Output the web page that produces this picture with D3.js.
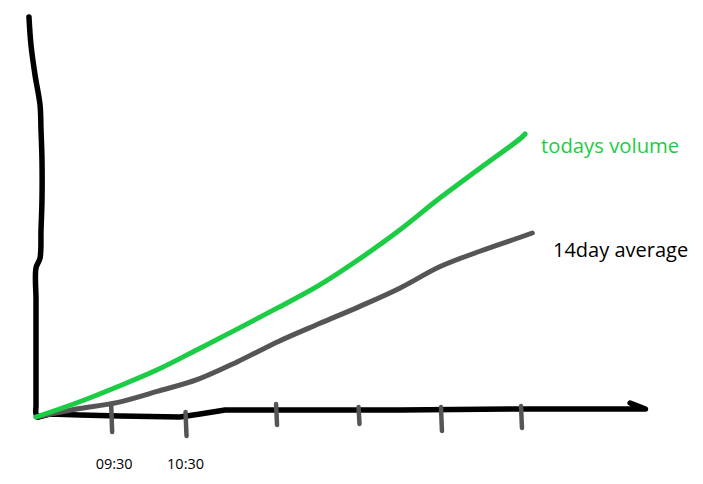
<!DOCTYPE html>
<html><head><meta charset="utf-8">
<script src="https://cdn.jsdelivr.net/npm/d3@7/dist/d3.min.js"></script>
<style>html,body{margin:0;padding:0;background:#fff;}svg{display:block;}</style>
</head><body>
<script>
// Hours since 08:30
const hours = [0, 0.5, 1, 1.5, 2, 2.5, 3, 3.5, 4, 4.5, 5, 5.5, 6];
const todaysVolume = [0, 3.5, 7.5, 11.8, 16.9, 22.1, 27.4, 32.9, 39.5, 46.75, 54.8, 62.3, 69.75];
const todaysEnd = [6.05, 70.75];
const avgVolume = [0, 2, 3.6, 6.4, 9.4, 13.9, 18.9, 23.3, 27.6, 32.2, 37.6, 41.5, 45];
const avgEnd = [6.14, 46];
const tickHours = [0.93, 1.85, 2.97, 3.99, 5.01, 6.0];
const tickLabels = ["09:30", "10:30", "", "", "", ""];
const seriesNames = ["todays volume", "14day average"];
// hand-drawn axis strokes in data units [hour, volume]
const yAxisStroke = [[-0.087,100],[-0.062,93],[-0.012,85.5],[0.05,78],[0.062,71.75],[0.074,64.25],[0.074,54.25],[0.062,46.75],[0.05,39.75],[0,37.25],[0,29.25],[0,16.75],[0,3],[0,0.75],[0.025,0]];
const xAxisStroke = [[0.025,0],[0.173,0.75],[0.545,0.5],[1.04,0.25],[1.78,0],[2.03,0.75],[2.34,1.75],[3.27,1.75],[4.5,1.75],[5.99,2],[6.98,2],[7.54,2],[7.35,3.5]];
const tickTops = [3, 1.25, 3.25, 2.5, 2.5, 2.75];
const tickBottoms = [-3.75, -4.75, -2, -1.75, -3.5, -2.75];

const W = 703, H = 484;
const x = d3.scaleLinear().domain([0, 6]).range([36, 521]);
const y = d3.scaleLinear().domain([0, 100]).range([417, 17]);

const svg = d3.select("body").append("svg").attr("width", W).attr("height", H);

const line = d3.line().x(d => x(d[0])).y(d => y(d[1])).curve(d3.curveCatmullRom);
const lineLin = d3.line().x(d => x(d[0])).y(d => y(d[1]));
const font = "'Segoe UI', 'Open Sans', 'Noto Sans', sans-serif";

// axes
svg.append("path").attr("d", line(yAxisStroke)).attr("fill","none").attr("stroke","#000").attr("stroke-width",5.5).attr("stroke-linecap","round").attr("stroke-linejoin","round");
svg.append("path").attr("d", lineLin(xAxisStroke)).attr("fill","none").attr("stroke","#000").attr("stroke-width",5.5).attr("stroke-linecap","round").attr("stroke-linejoin","round");

// ticks
svg.selectAll("path.tick").data(tickHours).enter().append("path").attr("class","tick")
  .attr("d", (h,i) => lineLin([[h, tickTops[i]], [h + 0.012, tickBottoms[i]]]))
  .attr("fill","none").attr("stroke","#555").attr("stroke-width",4.5).attr("stroke-linecap","round");

svg.selectAll("text.tl").data(tickLabels).enter().append("text").attr("class","tl")
  .attr("x", (t,i) => x(tickHours[i]) + (i===0 ? 3 : 0))
  .attr("y", 469)
  .attr("text-anchor","middle")
  .attr("font-family", font)
  .attr("font-size", 14.5).attr("fill","#000").text(t => t);

// series
const greenPts = hours.map((h,i) => [h, todaysVolume[i]]).concat([todaysEnd]);
const grayPts = hours.map((h,i) => [h, avgVolume[i]]).concat([avgEnd]);
svg.append("path").attr("d", line(grayPts)).attr("fill","none").attr("stroke","#555").attr("stroke-width",5).attr("stroke-linecap","round").attr("stroke-linejoin","round");
svg.append("path").attr("d", line(greenPts)).attr("fill","none").attr("stroke","#1ccc45").attr("stroke-width",5).attr("stroke-linecap","round").attr("stroke-linejoin","round");

// labels
svg.append("text").attr("x", 541).attr("y", 153)
  .attr("font-family", font).attr("font-size", 20.3)
  .attr("fill","#1ccc45").text(seriesNames[0]);
svg.append("text").attr("x", 553).attr("y", 257)
  .attr("font-family", font).attr("font-size", 20)
  .attr("fill","#000").text(seriesNames[1]);
</script>
</body></html>
